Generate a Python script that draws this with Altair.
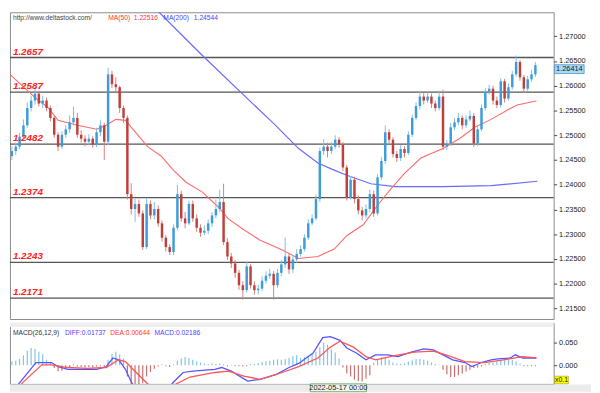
import altair as alt
import pandas as pd

# ---------------- data ----------------
first_open = 1.2458
closes = [
    1.2468, 1.2477, 1.2497, 1.2520, 1.2555, 1.2570, 1.2584, 1.2564, 1.2570, 1.2555,
    1.2535, 1.2501, 1.2477, 1.2501, 1.2512, 1.2526, 1.2535, 1.2501, 1.2493, 1.2487,
    1.2493, 1.2481, 1.2506, 1.2520, 1.2487, 1.2623, 1.2603, 1.2597, 1.2555, 1.2535,
    1.2381, 1.2351, 1.2361, 1.2342, 1.2274, 1.2361, 1.2338, 1.2351, 1.2322, 1.2293,
    1.2274, 1.2264, 1.2313, 1.2381, 1.2332, 1.2322, 1.2361, 1.2332, 1.2313, 1.2303,
    1.2307, 1.2322, 1.2338, 1.2351, 1.2365, 1.2284, 1.2255, 1.2241, 1.2222, 1.2197,
    1.2187, 1.2235, 1.2197, 1.2187, 1.2190, 1.2206, 1.2216, 1.2220, 1.2197, 1.2222,
    1.2239, 1.2255, 1.2229, 1.2249, 1.2260, 1.2270, 1.2293, 1.2322, 1.2332, 1.2371,
    1.2468, 1.2477, 1.2468, 1.2477, 1.2491, 1.2481, 1.2435, 1.2375, 1.2410, 1.2371,
    1.2348, 1.2338, 1.2351, 1.2381, 1.2342, 1.2415, 1.2448, 1.2506, 1.2491, 1.2462,
    1.2454, 1.2472, 1.2464, 1.2501, 1.2535, 1.2559, 1.2578, 1.2570, 1.2578, 1.2564,
    1.2555, 1.2578, 1.2477, 1.2483, 1.2516, 1.2526, 1.2535, 1.2520, 1.2532, 1.2539,
    1.2483, 1.2512, 1.2555, 1.2588, 1.2594, 1.2570, 1.2561, 1.2609, 1.2574, 1.2597,
    1.2623, 1.2648, 1.2617, 1.2594, 1.2613, 1.2623, 1.26414]
highs = [
    1.2478, 1.2485, 1.2505, 1.2532, 1.2566, 1.2580, 1.2597, 1.2590, 1.2580, 1.2576,
    1.2560, 1.2540, 1.2506, 1.2508, 1.2520, 1.2540, 1.2558, 1.2545, 1.2510, 1.2500,
    1.2502, 1.2498, 1.2515, 1.2530, 1.2525, 1.2636, 1.2630, 1.2617, 1.2600, 1.2560,
    1.2540, 1.2403, 1.2372, 1.2370, 1.2348, 1.2372, 1.2368, 1.2365, 1.2358, 1.2328,
    1.2298, 1.2280, 1.2320, 1.2400, 1.2388, 1.2345, 1.2368, 1.2368, 1.2340, 1.2320,
    1.2318, 1.2330, 1.2345, 1.2370, 1.2390, 1.2402, 1.2292, 1.2262, 1.2248, 1.2228,
    1.2205, 1.2245, 1.2240, 1.2205, 1.2198, 1.2215, 1.2225, 1.2230, 1.2226, 1.2230,
    1.2248, 1.2293, 1.2262, 1.2258, 1.2270, 1.2278, 1.2300, 1.2330, 1.2340, 1.2380,
    1.2475, 1.2492, 1.2485, 1.2486, 1.2500, 1.2496, 1.2486, 1.2440, 1.2418, 1.2416,
    1.2378, 1.2355, 1.2360, 1.2390, 1.2388, 1.2422, 1.2456, 1.2520, 1.2512, 1.2496,
    1.2468, 1.2480, 1.2478, 1.2508, 1.2542, 1.2566, 1.2590, 1.2585, 1.2588, 1.2584,
    1.2570, 1.2590, 1.2592, 1.2490, 1.2525, 1.2535, 1.2545, 1.2540, 1.2540, 1.2550,
    1.2545, 1.2520, 1.2562, 1.2595, 1.2602, 1.2600, 1.2578, 1.2615, 1.2614, 1.2605,
    1.2630, 1.2661, 1.2652, 1.2622, 1.2620, 1.2632, 1.2648]
lows = [
    1.2450, 1.2460, 1.2472, 1.2490, 1.2515, 1.2548, 1.2562, 1.2558, 1.2555, 1.2548,
    1.2528, 1.2495, 1.2468, 1.2472, 1.2495, 1.2505, 1.2520, 1.2495, 1.2485, 1.2478,
    1.2480, 1.2475, 1.2476, 1.2498, 1.2450, 1.2480, 1.2595, 1.2585, 1.2545, 1.2525,
    1.2370, 1.2340, 1.2325, 1.2335, 1.2268, 1.2270, 1.2330, 1.2330, 1.2315, 1.2285,
    1.2265, 1.2258, 1.2258, 1.2308, 1.2325, 1.2312, 1.2318, 1.2325, 1.2305, 1.2295,
    1.2298, 1.2300, 1.2315, 1.2332, 1.2345, 1.2278, 1.2248, 1.2232, 1.2212, 1.2188,
    1.2168, 1.2182, 1.2190, 1.2178, 1.2178, 1.2185, 1.2200, 1.2210, 1.2168, 1.2192,
    1.2215, 1.2232, 1.2220, 1.2222, 1.2242, 1.2255, 1.2265, 1.2288, 1.2318, 1.2328,
    1.2365, 1.2460, 1.2455, 1.2462, 1.2472, 1.2475, 1.2428, 1.2368, 1.2370, 1.2362,
    1.2340, 1.2328, 1.2332, 1.2345, 1.2335, 1.2338, 1.2410, 1.2442, 1.2484, 1.2455,
    1.2446, 1.2448, 1.2455, 1.2460, 1.2496, 1.2530, 1.2552, 1.2562, 1.2565, 1.2555,
    1.2548, 1.2550, 1.2470, 1.2470, 1.2478, 1.2510, 1.2520, 1.2512, 1.2515, 1.2528,
    1.2476, 1.2478, 1.2508, 1.2550, 1.2582, 1.2562, 1.2555, 1.2556, 1.2566, 1.2570,
    1.2592, 1.2618, 1.2610, 1.2585, 1.2588, 1.2608, 1.2618]

ma50_i = [-0.5, 5.75, 9.5, 12, 17, 22, 24.5, 27, 29.5, 35.25, 38.75, 42, 45.25, 49.5,
          53.75, 56.25, 60.25, 64.5, 70.25, 74.5, 79.5, 83.75, 87, 91.25, 95.25, 98.75,
          102, 106.25, 112, 116.25, 120.25, 124.5, 128.75, 131.25, 136.25]
ma50_v = [1.2623, 1.2578, 1.2555, 1.2530, 1.2520, 1.2512, 1.2520, 1.2532, 1.2530, 1.2477,
          1.2458, 1.2429, 1.2405, 1.2385, 1.2354, 1.2331, 1.2309, 1.2288, 1.2268, 1.2251,
          1.2255, 1.2270, 1.2297, 1.2319, 1.2361, 1.2394, 1.2423, 1.2454, 1.2473, 1.2493,
          1.2516, 1.2532, 1.2551, 1.2561, 1.2569]
ma200_i = [37, 49.5, 62, 68.25, 74.5, 79.5, 83.25, 87, 93.25, 99.5, 112, 124.5, 136.5]
ma200_v = [1.2758, 1.2661, 1.2568, 1.2522, 1.2473, 1.2444, 1.2431, 1.2419, 1.2402,
           1.2396, 1.2396, 1.2398, 1.2407]

levels = [1.2657, 1.2587, 1.2482, 1.2374, 1.2243, 1.2171]
level_labels = ["1.2657", "1.2587", "1.2482", "1.2374", "1.2243", "1.2171"]
price_ticks = [1.215, 1.22, 1.225, 1.23, 1.235, 1.24, 1.245, 1.25, 1.255, 1.26, 1.265, 1.27]

hist = [
    0.008, 0.010, 0.014, 0.022, 0.032, 0.038, 0.036, 0.030, 0.025, 0.012,
    0.005, -0.006, -0.013, -0.012, -0.008, -0.004, 0.003, -0.003, -0.004, -0.005,
    -0.004, -0.005, -0.003, -0.002, -0.003, 0.012, 0.025, 0.030, 0.024, 0.015,
    -0.025, -0.045, -0.045, -0.042, -0.040, -0.025, -0.015, -0.008, -0.003, 0.002,
    -0.002, -0.004, 0.002, 0.010, 0.015, 0.018, 0.016, 0.012, 0.008, 0.006,
    0.004, 0.003, 0.004, 0.003, 0.004, 0.002, -0.002, 0.001, -0.002, -0.002,
    -0.003, -0.002, 0.002, 0.003, 0.005, 0.007, 0.009, 0.010, 0.012, 0.013,
    0.012, 0.014, 0.016, 0.020, 0.022, 0.016, 0.018, 0.020, 0.025, 0.030,
    0.040, 0.050, 0.045, 0.035, 0.028, 0.015, -0.005, -0.018, -0.025, -0.032,
    -0.035, -0.036, -0.030, -0.022, 0.006, 0.012, 0.017, 0.017, 0.012, 0.006,
    0.004, 0.003, 0.004, 0.008, 0.011, 0.014, 0.014, 0.012, 0.010, 0.006,
    0.003, 0.001, -0.010, -0.020, -0.026, -0.026, -0.022, -0.018, -0.014, -0.010,
    -0.006, -0.005, -0.003, 0.003, 0.005, 0.006, 0.008, 0.010, 0.011, 0.012,
    0.012, 0.008, 0.004, -0.002, -0.002, -0.002, -0.002]

diff_i = [0, 6.25, 10.25, 12, 14.5, 19.5, 22, 24.5, 26.25, 27.75, 29.5, 31.25, 34, 37, 40,
          42, 44.5, 47, 52.75, 54.5, 57, 61.25, 64.5, 68.75, 72, 74.5, 78.25, 80.75, 82.75,
          85.25, 87, 89.5, 92, 94.5, 97.75, 100.25, 103.75, 107, 109.5, 112, 114.5, 117.75,
          119.5, 122, 124.5, 126.25, 129.5, 130.75, 132.75, 136.25]
diff_v = [-0.060, 0.006, 0.006, -0.003, -0.009, -0.009, -0.009, -0.003, 0.016, 0.012,
          -0.009, -0.041, -0.065, -0.075, -0.060, -0.037, -0.016, -0.013, -0.009, -0.005,
          -0.013, -0.035, -0.031, -0.020, -0.005, 0.004, 0.027, 0.061, 0.063, 0.055,
          0.038, 0.027, 0.012, 0.023, 0.023, 0.019, 0.029, 0.036, 0.034, 0.023,
          0.012, 0.006, -0.003, 0.006, 0.012, 0.014, 0.016, 0.023, 0.016, 0.016]
dea_i = [0, 2.75, 7.75, 10.25, 14.5, 19.5, 24.5, 27.75, 29.5, 32.75, 35.25, 38, 41, 42.75,
         46.25, 52.75, 56.25, 60.25, 64.5, 70.25, 74.5, 79.5, 82.75, 85.25, 88.75, 92, 94.5,
         99.5, 104.5, 109.5, 112.75, 117.75, 122.75, 127.75, 132.75, 136.25]
dea_v = [-0.070, -0.039, 0.001, 0.001, -0.005, -0.007, -0.005, 0.012, 0.008, -0.020,
         -0.041, -0.055, -0.050, -0.041, -0.026, -0.016, -0.013, -0.024, -0.031, -0.016,
         -0.003, 0.016, 0.040, 0.053, 0.040, 0.019, 0.012, 0.021, 0.029, 0.031,
         0.023, 0.008, 0.006, 0.012, 0.019, 0.016]
macd_ticks = [0.0, 0.05]

# ---------------- layout ----------------
W = 553
H1 = 312
H2 = 62
FONT = "Liberation Sans"
SMALL = 6.8

n = len(closes)
opens = [first_open] + closes[:-1]
candles = pd.DataFrame({"i": list(range(n)), "open": opens, "close": closes,
                        "high": highs, "low": lows})

xs = alt.Scale(domain=[-0.5, 140.75], nice=False, zero=False)
ps = alt.Scale(domain=[1.21287, 1.27484], nice=False, zero=False)
X = alt.X("i:Q", scale=xs, axis=None)
yaxis = alt.Axis(orient="right", values=price_ticks, format=".5f", grid=False, domain=False,
                 tickSize=3, tickColor="#444", labelFont=FONT, labelFontSize=7.5,
                 labelColor="#222", labelPadding=2, title=None)

up = alt.datum.close >= alt.datum.open

lvl_df = pd.DataFrame({"level": levels, "label": level_labels})
level_rules = alt.Chart(lvl_df).mark_rule(color="#555555", strokeWidth=1.3).encode(
    y=alt.Y("level:Q", scale=ps, axis=yaxis))
level_text = alt.Chart(lvl_df).mark_text(
    align="left", baseline="alphabetic", dy=-3, font=FONT, fontSize=10,
    fontWeight="bold", fontStyle="italic", color="#ff2222").encode(
    x=alt.value(3), y=alt.Y("level:Q", scale=ps, axis=yaxis), text="label:N")

ma200 = alt.Chart(pd.DataFrame({"i": ma200_i, "v": ma200_v})).mark_line(
    color="#6a6aff", strokeWidth=1.2, clip=True).encode(
    x=X, y=alt.Y("v:Q", scale=ps, axis=yaxis))
ma50 = alt.Chart(pd.DataFrame({"i": ma50_i, "v": ma50_v})).mark_line(
    color="#ff6a6a", strokeWidth=1.1, clip=True).encode(
    x=X, y=alt.Y("v:Q", scale=ps, axis=yaxis))

wicks = alt.Chart(candles).mark_rule(strokeWidth=1).encode(
    x=X, y=alt.Y("low:Q", scale=ps, axis=yaxis), y2="high:Q",
    color=alt.condition(up, alt.value("#7cbfe8"), alt.value("#d4807e")))
bodies = alt.Chart(candles).mark_rule(strokeWidth=2.5).encode(
    x=X, y=alt.Y("open:Q", scale=ps, axis=yaxis), y2="close:Q",
    color=alt.condition(up, alt.value("#3d9bd8"), alt.value("#bf3f3b")))

one = pd.DataFrame({"a": [0]})
def label(txt, x, y, color, size=SMALL, align="left"):
    return alt.Chart(one).mark_text(text=txt, align=align, baseline="middle", font=FONT,
                                    fontSize=size, color=color).encode(
        x=alt.value(x), y=alt.value(y))

top_texts = [
    label("http://www.deltastock.com/", 3, 6, "#444444"),
    label("MA(50)", 100, 6, "#ff3333"),
    label("1.22516", 126, 6, "#ff3333"),
    label("MA(200)", 156, 6, "#4444ff"),
    label("1.24544", 187, 6, "#4444ff"),
]

last_df = pd.DataFrame({"p": [closes[-1]]})
box_shape = "M-1,-0.3L1,-0.3L1,0.3L-1,0.3Z"
last_box = alt.Chart(last_df).mark_point(shape=box_shape, size=900, filled=True,
                                         fill="#a9d9f3", stroke="#4b93c4",
                                         strokeWidth=0.8, opacity=1, yOffset=4).encode(
    x=alt.value(W + 16), y=alt.Y("p:Q", scale=ps, axis=yaxis))
last_txt = alt.Chart(last_df).mark_text(font=FONT, fontSize=7.5, color="#102030",
                                        dy=4).encode(
    x=alt.value(W + 16), y=alt.Y("p:Q", scale=ps, axis=yaxis),
    text=alt.Text("p:Q", format=".5f"))

price = alt.layer(level_rules, ma200, ma50, wicks, bodies, level_text, last_box, last_txt,
                  *top_texts).properties(width=W, height=H1)

# ---------------- MACD panel ----------------
hs = alt.Scale(domain=[-0.0412, 0.0934], nice=False, zero=False)
maxis = alt.Axis(orient="right", values=macd_ticks, format=".3f", grid=False, domain=False,
                 tickSize=3, tickColor="#444", labelFont=FONT, labelFontSize=7.5,
                 labelColor="#222", labelPadding=2, title=None)

hist_df = pd.DataFrame({"i": list(range(n)), "v": hist, "zero": [0.0] * n})
bars = alt.Chart(hist_df).mark_rule(strokeWidth=1.2, clip=True).encode(
    x=X, y=alt.Y("zero:Q", scale=hs, axis=maxis), y2="v:Q",
    color=alt.condition(alt.datum.v > 0, alt.value("#80c4e6"), alt.value("#c47070")))
diff_line = alt.Chart(pd.DataFrame({"i": diff_i, "v": diff_v})).mark_line(
    color="#5555ff", strokeWidth=1.3, clip=True).encode(
    x=X, y=alt.Y("v:Q", scale=hs, axis=maxis))
dea_line = alt.Chart(pd.DataFrame({"i": dea_i, "v": dea_v})).mark_line(
    color="#ff5555", strokeWidth=1.3, clip=True).encode(
    x=X, y=alt.Y("v:Q", scale=hs, axis=maxis))

top_band = alt.Chart(one).mark_rect(color="#eeeeee").encode(
    x=alt.value(0), x2=alt.value(W), y=alt.value(0), y2=alt.value(4))
bottom_band = alt.Chart(one).mark_rect(color="#ebebeb").encode(
    x=alt.value(0), x2=alt.value(W + 38), y=alt.value(H2 + 0.5), y2=alt.value(H2 + 8))
date_box = alt.Chart(one).mark_point(shape="M-1,-0.14L1,-0.14L1,0.14L-1,0.14Z", size=3249,
                                     filled=True, fill="#f4f4f4", stroke="#4aa04a",
                                     strokeWidth=0.8, opacity=1).encode(
    x=alt.value(334), y=alt.value(H2 + 4))
date_txt = label("2022-05-17 00:00", 334, H2 + 4.5, "#222222", size=7.5, align="center")
x01_box = alt.Chart(one).mark_point(shape="M-1,-0.55L1,-0.55L1,0.55L-1,0.55Z", size=196,
                                    filled=True, fill="#ffff00", stroke="#888800",
                                    strokeWidth=0.5, opacity=1).encode(
    x=alt.value(W + 8), y=alt.value(H2 - 4))
x01_txt = label("x0.1", W + 8, H2 - 3.5, "#111111", size=7, align="center")

macd_texts = [
    label("MACD(26,12,9)", 3, 10, "#333333"),
    label("DIFF:0.01737", 56, 10, "#4444ff"),
    label("DEA:0.00644", 102, 10, "#ff3333"),
    label("MACD:0.02186", 147, 10, "#4444ff"),
]

macd = alt.layer(top_band, bars, diff_line, dea_line, bottom_band, date_box, date_txt,
                 x01_box, x01_txt, *macd_texts).properties(width=W, height=H2)

chart = alt.vconcat(price, macd, spacing=2).properties(
    padding=0, background="white").configure_view(stroke="#8a8a8a", strokeWidth=1)

chart.save("out.html", embed_options={"renderer": "svg", "actions": False})
